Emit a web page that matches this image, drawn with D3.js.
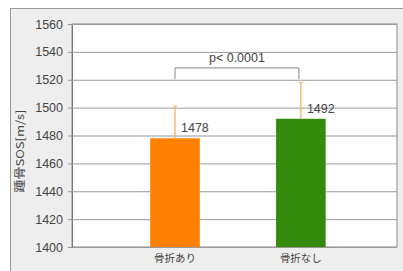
<!DOCTYPE html>
<html>
<head>
<meta charset="utf-8">
<script src="https://cdn.jsdelivr.net/npm/d3@7"></script>
<style>
  body { margin: 0; background: #fff; }
  text { font-family: "Liberation Sans", Arial, sans-serif; fill: #444; }
</style>
</head>
<body>
<div class="chart"></div>
<script>
var categories = ["骨折あり", "骨折なし"];
var means = [1478, 1492];
var sds = [23, 26];
var barColors = ["#ff8000", "#338a0c"];
var yTicks = [1400, 1420, 1440, 1460, 1480, 1500, 1520, 1540, 1560];
var pLabel = "p< 0.0001";

var svgWidth = 403;
var svgHeight = 271;

var margin = { top: 24, right: 3, bottom: 24, left: 72 };
var width = svgWidth - margin.left - margin.right;
var height = svgHeight - margin.top - margin.bottom;

var svg = d3.select(".chart")
  .append("svg")
  .attr("width", svgWidth)
  .attr("height", svgHeight);

// outer frame
svg.append("rect")
  .attr("x", 0).attr("y", 0)
  .attr("width", svgWidth).attr("height", svgHeight)
  .attr("fill", "#fff");
svg.append("rect")
  .attr("x", 10.5).attr("y", 8.5)
  .attr("width", svgWidth).attr("height", svgHeight)
  .attr("fill", "#eeeeee")
  .attr("stroke", "#999");

var chartGroup = svg.append("g")
  .attr("transform", `translate(${margin.left}, ${margin.top})`);

var plotW = width - 3;

var xScale = d3.scaleBand()
  .domain(categories)
  .range([0, plotW])
  .paddingInner(0.606)
  .paddingOuter(0.594)
  .align(0.523);

var yScale = d3.scaleLinear()
  .domain([1400, 1560])
  .range([height, 0]);

// plot background
chartGroup.append("rect")
  .attr("width", plotW)
  .attr("height", height)
  .attr("fill", "#fff")
  .attr("stroke", "#888");

// grid lines and ticks
var leftAxis = d3.axisLeft(yScale)
  .tickValues(yTicks)
  .tickSize(-plotW)
  .tickPadding(9)
  .tickFormat(d3.format("d"));

var yAxis = chartGroup.append("g").call(leftAxis);
yAxis.select(".domain").attr("stroke", "#777");
yAxis.selectAll(".tick line")
  .attr("stroke", "#999")
  .attr("x1", -4);
yAxis.selectAll(".tick text")
  .attr("font-size", 12.5)
  .attr("fill", "#555");

// bars
chartGroup.selectAll(".bar")
  .data(categories)
  .enter()
  .append("rect")
  .attr("class", "bar")
  .attr("x", d => xScale(d))
  .attr("y", (d, i) => yScale(means[i]))
  .attr("width", xScale.bandwidth())
  .attr("height", (d, i) => height - yScale(means[i]))
  .attr("fill", (d, i) => barColors[i]);

// error bars (upper only)
var errGroup = chartGroup.selectAll(".err")
  .data(categories)
  .enter()
  .append("g")
  .attr("class", "err")
  .attr("transform", d => `translate(${xScale(d) + xScale.bandwidth() / 2}, 0)`);
errGroup.append("line")
  .attr("y1", (d, i) => yScale(means[i]))
  .attr("y2", (d, i) => yScale(means[i] + sds[i]))
  .attr("stroke", "#f4b060")
  .attr("stroke-width", 1.3);
errGroup.append("line")
  .attr("x1", -2).attr("x2", 2)
  .attr("y1", (d, i) => yScale(means[i] + sds[i]))
  .attr("y2", (d, i) => yScale(means[i] + sds[i]))
  .attr("stroke", "#f4b060")
  .attr("stroke-width", 1);

// value labels
chartGroup.selectAll(".val")
  .data(categories)
  .enter()
  .append("text")
  .attr("class", "val")
  .attr("x", d => xScale(d) + xScale.bandwidth() / 2 + 6)
  .attr("y", (d, i) => yScale(means[i]) - 6)
  .attr("font-size", 12.5)
  .text((d, i) => means[i]);

// significance bracket
var cx0 = xScale(categories[0]) + xScale.bandwidth() / 2;
var cx1 = xScale(categories[1]) + xScale.bandwidth() / 2 - 2;
var bracketY = yScale(1528.5);
var bracketBottom = yScale(1520.5);
chartGroup.append("path")
  .attr("d", `M${cx0},${bracketBottom}V${bracketY}H${cx1}V${bracketBottom}`)
  .attr("fill", "none")
  .attr("stroke", "#888");
chartGroup.append("text")
  .attr("x", (cx0 + cx1) / 2)
  .attr("y", bracketY - 6)
  .attr("text-anchor", "middle")
  .attr("font-size", 12.5)
  .text(pLabel);

// x labels
chartGroup.selectAll(".xlab")
  .data(categories)
  .enter()
  .append("text")
  .attr("class", "xlab")
  .attr("x", d => xScale(d) + xScale.bandwidth() / 2)
  .attr("y", height + 15)
  .attr("text-anchor", "middle")
  .attr("font-size", 10.5)
  .style("font-family", "'Noto Sans CJK JP', sans-serif")
  .text(d => d);

// y axis title
svg.append("text")
  .attr("transform", `translate(24, 151) rotate(-90)`)
  .attr("text-anchor", "middle")
  .attr("font-size", 11)
  .attr("textLength", 83)
  .attr("lengthAdjust", "spacingAndGlyphs")
  .style("font-family", "'Noto Sans CJK JP', sans-serif")
  .text("踵骨SOS[m/s]");
</script>
</body>
</html>
